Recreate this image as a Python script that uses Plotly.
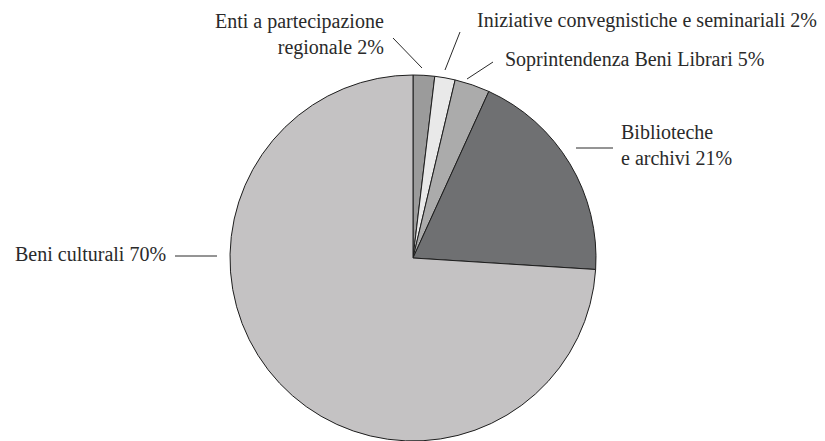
import plotly.graph_objects as go

W, H = 825, 441

# slice shares as drawn (clockwise from 12 o'clock)
categories = ["Enti a partecipazione regionale", "Iniziative convegnistiche e seminariali",
              "Soprintendenza Beni Librari", "Biblioteche e archivi", "Beni culturali"]
values = [1.9, 1.8, 3.1, 19.2, 74.0]
label_text = ["Enti a partecipazione<br>regionale 2%", "Iniziative convegnistiche e seminariali 2%",
              "Soprintendenza Beni Librari 5%", "Biblioteche<br>e archivi 21%", "Beni culturali 70%"]
colors = ["#9b9b9b", "#e9e9e9", "#ababab", "#6f7072", "#c4c2c3"]

# label placement in pixels: (x, y, xanchor, align), leader line (x0, y0, x1, y1)
label_pos = [(386, 35, "right", "right"), (475, 20, "left", "left"), (503, 59, "left", "left"),
             (619, 145, "left", "left"), (168, 254, "right", "left")]
leaders = [(393, 38, 422, 68), (460, 32, 445, 70), (493, 62, 467, 79),
           (576, 148, 613, 148), (175, 256, 217, 256)]

cx, cy, r = 413, 258, 183

def px(x): return x / W
def py(y): return 1 - y / H

fig = go.Figure(go.Pie(labels=categories, values=values, sort=False, direction="clockwise", rotation=0,
                       marker=dict(colors=colors, line=dict(color="#1e1e1e", width=1)),
                       textinfo="none", hoverinfo="label+percent",
                       domain=dict(x=[px(cx - r), px(cx + r)], y=[py(cy + r), py(cy - r)])))

font = dict(family="Liberation Serif", size=20, color="#2a2a2a")
for t, (x, y, xa, al) in zip(label_text, label_pos):
    fig.add_annotation(x=px(x), y=py(y), xref="paper", yref="paper", text=t, showarrow=False,
                       xanchor=xa, yanchor="middle", align=al, font=font)
for x0, y0, x1, y1 in leaders:
    fig.add_shape(type="line", xref="paper", yref="paper", x0=px(x0), y0=py(y0), x1=px(x1), y1=py(y1),
                  line=dict(color="#2a2a2a", width=1))

fig.update_layout(width=W, height=H, margin=dict(l=0, r=0, t=0, b=0), showlegend=False,
                  paper_bgcolor="white", plot_bgcolor="white")
# drop the page's default body margin so pixel positions line up
fig.write_html("out.html", config={"displayModeBar": False},
               post_script="document.body.style.margin='0';")
